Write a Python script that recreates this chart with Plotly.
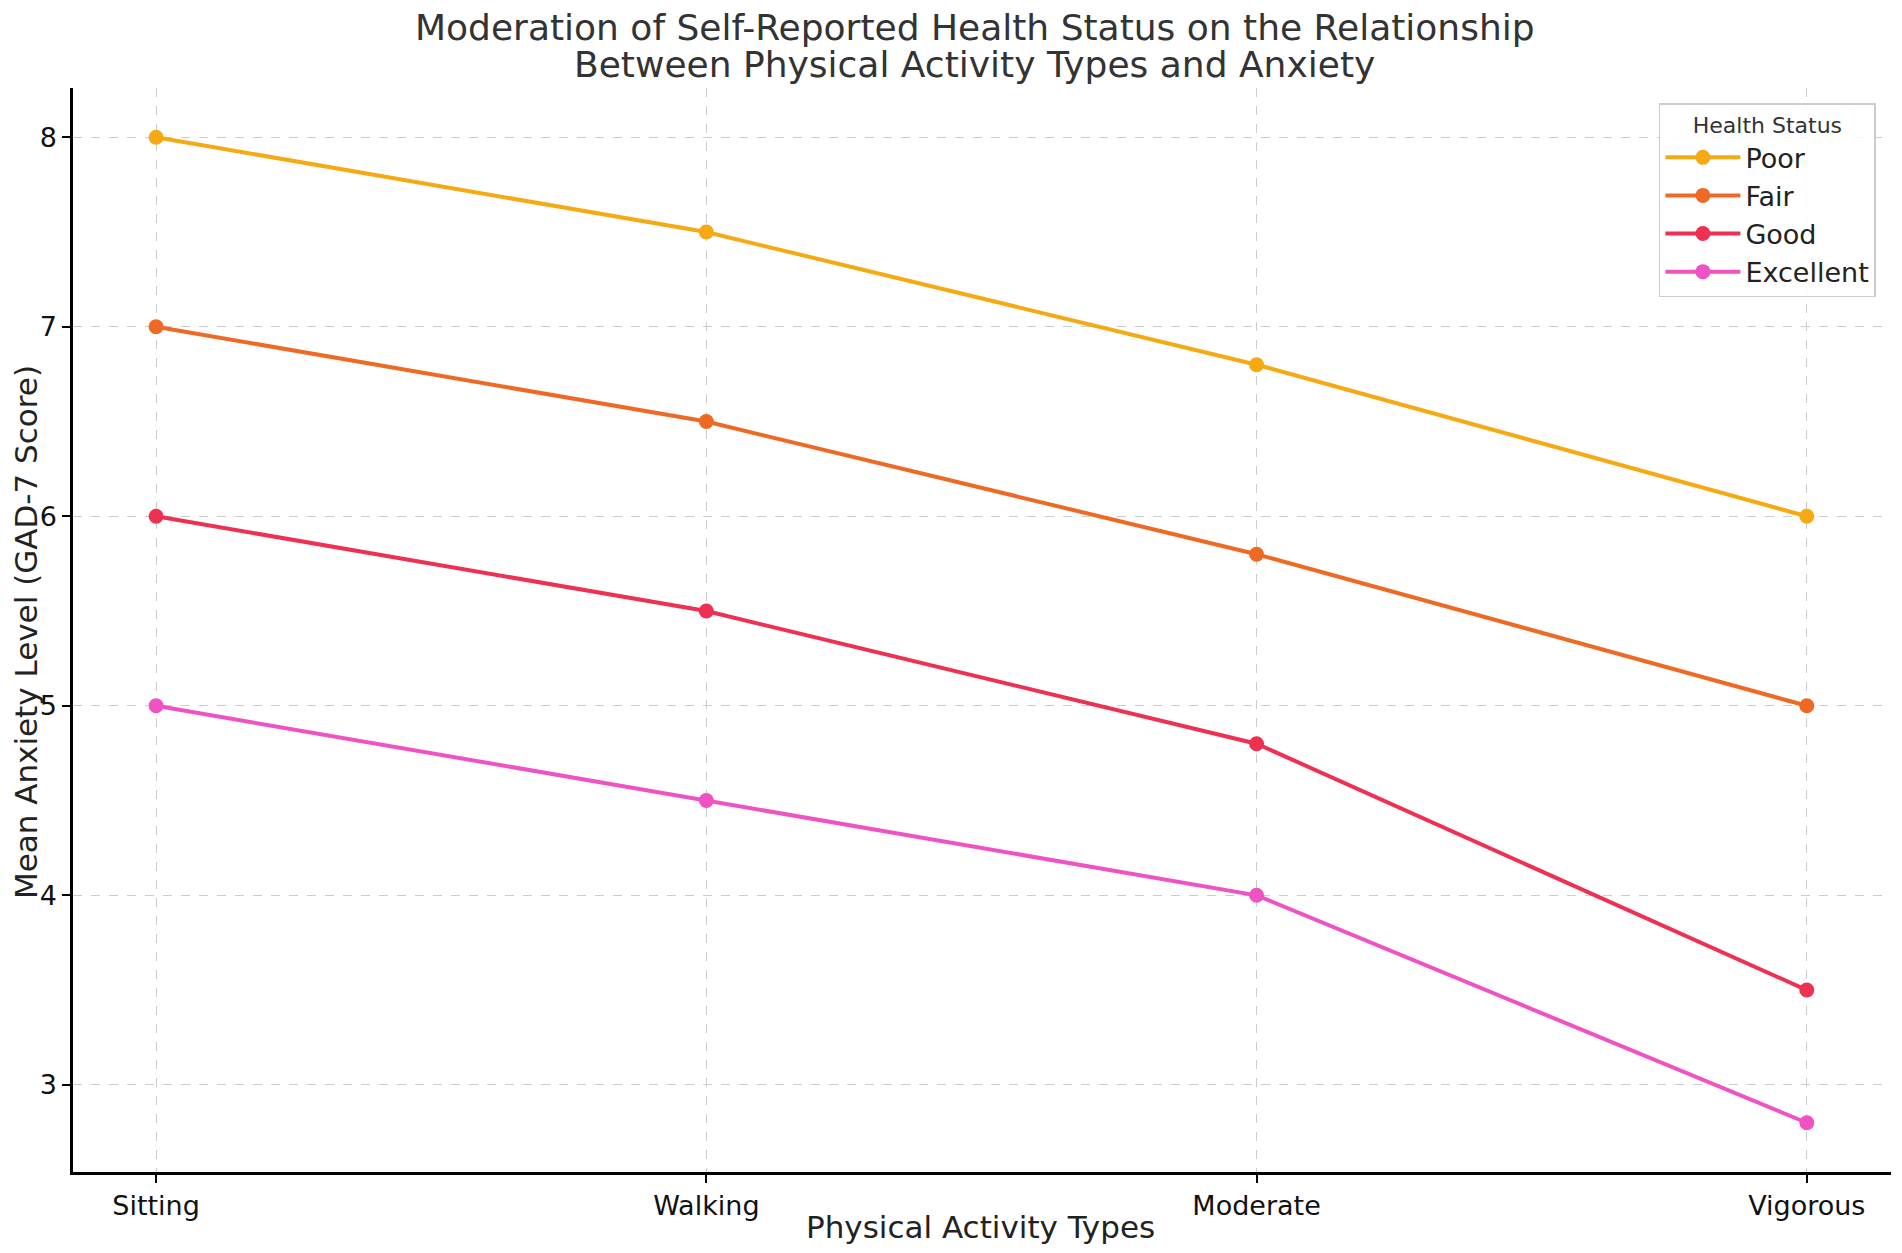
import plotly.graph_objects as go

# ---- DATA ---- #
activity_types = ["Sitting", "Walking", "Moderate", "Vigorous"]
health_status = ["Poor", "Fair", "Good", "Excellent"]

poor = [8.0, 7.5, 6.8, 6.0]
fair = [7.0, 6.5, 5.8, 5.0]
good = [6.0, 5.5, 4.8, 3.5]
excellent = [5.0, 4.5, 4.0, 2.8]

series = [poor, fair, good, excellent]
colors = ["#F5A912", "#EE6A24", "#EE3153", "#EF52C3"]

title_lines = [
    "Moderation of Self-Reported Health Status on the Relationship",
    "Between Physical Activity Types and Anxiety",
]
x_title = "Physical Activity Types"
y_title = "Mean Anxiety Level (GAD-7 Score)"

FONT = "DejaVu Sans, Liberation Sans, sans-serif"

# ---- PLOT ---- #
fig = go.Figure()

for name, values, color in zip(health_status, series, colors):
    fig.add_trace(go.Scatter(
        x=list(range(len(activity_types))),
        y=values,
        mode="lines+markers",
        name=name,
        line=dict(color=color, width=4),
        marker=dict(color=color, size=15),
    ))

axis_common = dict(
    showline=True,
    linecolor="black",
    linewidth=2.5,
    mirror=False,
    ticks="outside",
    ticklen=8,
    tickwidth=2,
    tickcolor="black",
    showgrid=True,
    gridcolor="#cccccc",
    griddash="dash",
    gridwidth=1,
    zeroline=False,
    automargin=False,
    tickfont=dict(family=FONT, size=27, color="#111111"),
)

fig.update_xaxes(
    **axis_common,
    tickmode="array",
    tickvals=list(range(len(activity_types))),
    ticktext=activity_types,
    range=[-0.151, 3.153],
)

fig.update_yaxes(
    **axis_common,
    dtick=1,
    range=[2.54, 8.26],
)

# title and axis titles placed as annotations so the spacing matches
fig.add_annotation(text=title_lines[0], xref="paper", yref="paper", x=0.4961, y=1.0554,
                   xanchor="center", yanchor="middle", showarrow=False,
                   font=dict(family=FONT, size=36, color="#333333"))
fig.add_annotation(text=title_lines[1], xref="paper", yref="paper", x=0.4961, y=1.0221,
                   xanchor="center", yanchor="middle", showarrow=False,
                   font=dict(family=FONT, size=36, color="#333333"))
fig.add_annotation(text=x_title, xref="paper", yref="paper", x=0.4994, y=-0.0507,
                   xanchor="center", yanchor="middle", showarrow=False,
                   font=dict(family=FONT, size=31, color="#222222"))
fig.add_annotation(text=y_title, xref="paper", yref="paper", x=-0.0259, y=0.498,
                   xanchor="center", yanchor="middle", showarrow=False, textangle=-90,
                   font=dict(family=FONT, size=31, color="#222222"))

# page body adds an 8px offset, margins compensate for it
fig.update_layout(
    width=1902,
    height=1253,
    margin=dict(l=65, r=19, t=80, b=89),
    plot_bgcolor="white",
    paper_bgcolor="white",
    showlegend=True,
    legend=dict(
        title=dict(text="Health Status", side="top center", font=dict(family=FONT, size=22, color="#333333")),
        font=dict(family=FONT, size=27, color="#222222"),
        itemwidth=75,
        x=0.9917,
        y=0.986,
        xanchor="right",
        yanchor="top",
        bordercolor="#cccccc",
        borderwidth=1.5,
        bgcolor="rgba(255,255,255,0.85)",
    ),
)

fig.write_html("out.html")
